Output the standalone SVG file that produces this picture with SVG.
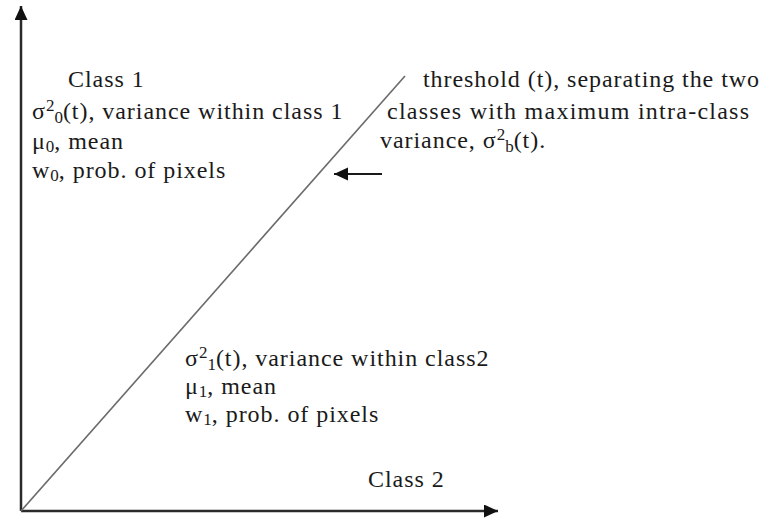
<svg xmlns="http://www.w3.org/2000/svg" width="765" height="520" viewBox="0 0 765 520">
<defs>
<marker id="ah" markerUnits="userSpaceOnUse" markerWidth="15" markerHeight="14" refX="14" refY="6.5" orient="auto">
<path d="M0,0 L14,6.5 L0,13 z" fill="#111"/>
</marker>
<style>
text{font-family:"Liberation Serif","Times New Roman",serif;font-size:24px;letter-spacing:0.95px;fill:#1a1a1a}
.sm{font-size:17px;letter-spacing:0}
.axis{stroke:#2a2a2a;stroke-width:2.5;fill:none}
.diag{stroke:#6a6a6a;stroke-width:1.6;fill:none}
.arr{stroke:#1a1a1a;stroke-width:2;fill:none}
</style>
</defs>
<rect width="765" height="520" fill="#fff"/>
<g id="connectors">
<line class="axis" x1="21" y1="511" x2="21" y2="6" marker-end="url(#ah)"/>
<line class="axis" x1="21" y1="511" x2="498" y2="511" marker-end="url(#ah)"/>
<line class="diag" x1="21" y1="511" x2="405" y2="76"/>
<line class="arr" x1="382" y1="174" x2="334" y2="174" marker-end="url(#ah)"/>
</g>
<g id="class1" font-family="Liberation Serif, serif">
<text x="68" y="87">Class 1</text>
<text x="32" y="119">σ<tspan class="sm" dy="-8">2</tspan><tspan class="sm" dy="12">0</tspan><tspan dy="-4">(t), variance within class 1</tspan></text>
<text x="32" y="149">μ<tspan class="sm" dy="3">0</tspan><tspan dy="-3">, mean</tspan></text>
<text x="32" y="178">w<tspan class="sm" dy="3">0</tspan><tspan dy="-3">, prob. of pixels</tspan></text>
</g>
<g id="threshold" font-family="Liberation Serif, serif">
<text x="423" y="87" textLength="337" lengthAdjust="spacing">threshold (t), separating the two</text>
<text x="387" y="119" textLength="363" lengthAdjust="spacing">classes with maximum intra-class</text>
<text x="380" y="148">variance, σ<tspan class="sm" dy="-8">2</tspan><tspan class="sm" dy="12">b</tspan><tspan dy="-4">(t).</tspan></text>
</g>
<g id="class2" font-family="Liberation Serif, serif">
<text x="185" y="366">σ<tspan class="sm" dy="-8">2</tspan><tspan class="sm" dy="12">1</tspan><tspan dy="-4">(t), variance within class2</tspan></text>
<text x="185" y="394">μ<tspan class="sm" dy="3">1</tspan><tspan dy="-3">, mean</tspan></text>
<text x="185" y="422">w<tspan class="sm" dy="3">1</tspan><tspan dy="-3">, prob. of pixels</tspan></text>
<text x="368" y="487">Class 2</text>
</g>
</svg>
